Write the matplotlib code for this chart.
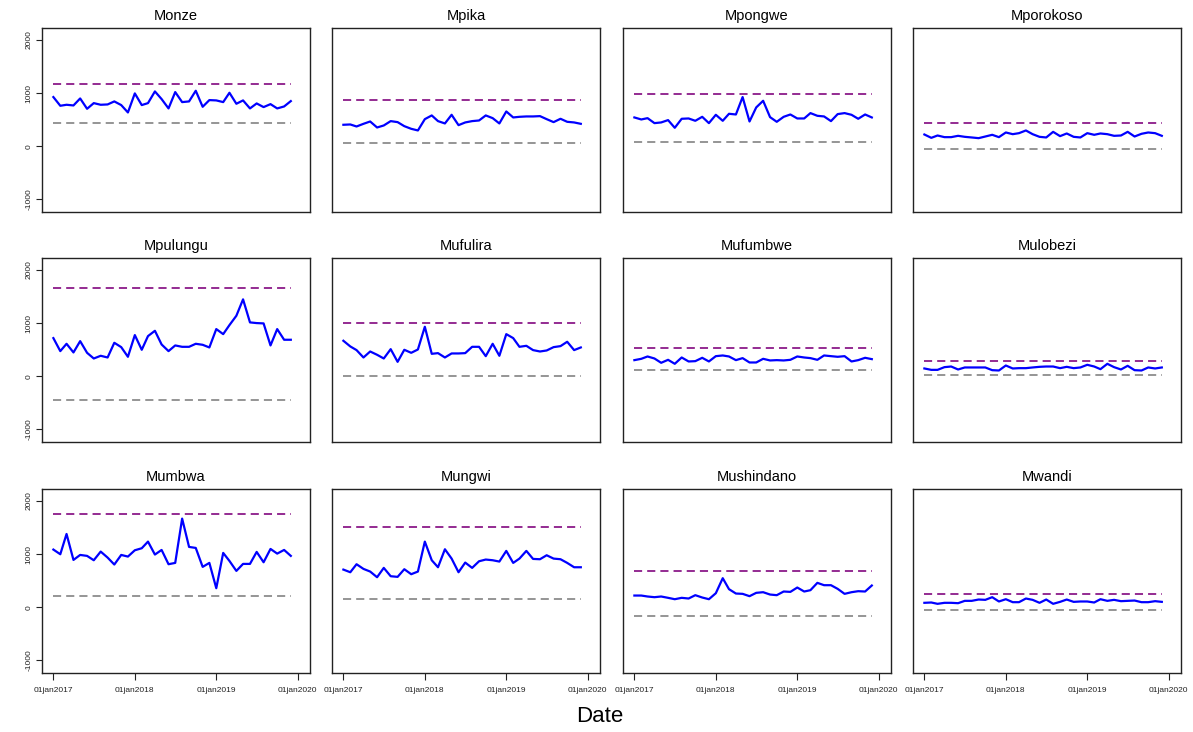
import numpy as np
import pandas as pd
import matplotlib
matplotlib.use("Agg")
import matplotlib.pyplot as plt
import matplotlib.dates as mdates

plt.rcParams['font.family'] = ['Liberation Sans', 'DejaVu Sans']

districts = ["Monze", "Mpika", "Mpongwe", "Mporokoso",
             "Mpulungu", "Mufulira", "Mufumbwe", "Mulobezi",
             "Mumbwa", "Mungwi", "Mushindano", "Mwandi"]

dates = pd.date_range("2017-01-01", periods=36, freq="MS")

monze = [925, 761, 780, 767, 899, 704, 811, 780, 786, 843, 774, 635, 994, 774, 811, 1031, 887, 711,
         1019, 830, 843, 1044, 742, 868, 862, 830, 1006, 799, 862, 711, 805, 736, 792, 711, 748, 849]
mpika = [403, 409, 371, 421, 465, 352, 390, 472, 453, 377, 327, 296, 509, 579, 472, 428, 591, 396,
         447, 472, 484, 579, 528, 428, 654, 541, 553, 560, 560, 566, 509, 453, 516, 459, 447, 421]
mpongwe = [541, 503, 528, 434, 447, 491, 346, 516, 522, 478, 553, 434, 591, 478, 610, 597, 925, 465,
           730, 855, 547, 459, 553, 597, 522, 522, 623, 572, 560, 472, 604, 623, 591, 516, 597, 541]
mporokoso = [220, 157, 201, 170, 170, 195, 176, 164, 151, 182, 214, 170, 258, 226, 245, 296, 226, 176,
             164, 270, 189, 239, 176, 164, 245, 214, 239, 226, 195, 201, 270, 182, 233, 258, 245, 195]
mpulungu = [717, 472, 610, 447, 660, 440, 333, 384, 352, 629, 547, 365, 774, 497, 755, 855, 597, 472,
            579, 553, 553, 610, 591, 541, 887, 792, 962, 1138, 1447, 1013, 1000, 994, 579, 887, 686, 686]
mufulira = [667, 560, 491, 352, 465, 403, 333, 509, 270, 497, 440, 503, 931, 421, 434, 352, 428, 428,
            434, 553, 553, 377, 610, 384, 792, 717, 553, 572, 491, 465, 484, 547, 566, 648, 491, 541]
mufumbwe = [302, 327, 371, 333, 252, 308, 233, 352, 277, 283, 346, 277, 377, 390, 371, 302, 340, 258,
            258, 327, 296, 302, 296, 308, 371, 352, 340, 308, 390, 377, 365, 377, 277, 302, 346, 321]
mulobezi = [145, 119, 119, 170, 182, 126, 164, 164, 164, 164, 113, 107, 201, 145, 151, 151, 164, 176,
            182, 182, 151, 176, 151, 164, 214, 182, 132, 233, 170, 126, 195, 113, 107, 164, 145, 164]
mumbwa = [1085, 997, 1379, 890, 984, 966, 884, 1047, 934, 803, 984, 953, 1072, 1110, 1235, 991, 1078, 809,
          834, 1668, 1135, 1116, 759, 834, 357, 1022, 871, 683, 815, 815, 1041, 846, 1097, 1009, 1078, 966]
mungwi = [708, 658, 809, 721, 671, 564, 740, 583, 571, 715, 621, 671, 1235, 884, 752, 1091, 915, 658,
          840, 740, 865, 897, 884, 859, 1060, 834, 915, 1060, 909, 903, 978, 915, 903, 834, 752, 752]
mushindano = [219, 219, 201, 188, 201, 176, 150, 176, 163, 226, 182, 150, 263, 546, 339, 257, 251, 207,
              270, 282, 238, 226, 295, 288, 370, 295, 320, 458, 414, 414, 345, 251, 282, 301, 295, 408]
mwandi = [82, 88, 63, 82, 82, 75, 119, 119, 144, 138, 188, 107, 150, 94, 94, 163, 138, 82,
          144, 63, 100, 144, 100, 107, 107, 88, 150, 119, 138, 113, 119, 125, 94, 94, 113, 100]

series = [monze, mpika, mpongwe, mporokoso, mpulungu, mufulira, mufumbwe, mulobezi,
          mumbwa, mungwi, mushindano, mwandi]

upper = [1176, 868, 987, 434, 1667, 1000, 528, 289, 1755, 1511, 683, 251]
lower = [428, 57, 82, -44, -447, -6, 119, 25, 213, 163, -163, -44]

y_ticks = [-1000, 0, 1000, 2000]
x_tick_labels = ["01jan2017", "01jan2018", "01jan2019", "01jan2020"]
x_tick_dates = pd.to_datetime(["2017-01-01", "2018-01-01", "2019-01-01", "2020-01-01"])

W, H = 1193, 732
fig = plt.figure(figsize=(W / 100, H / 100), dpi=100)

col_left = [42, 332, 623, 913]
row_top = [28, 258, 489]
aw, ah = 268, 184

xmin = mdates.date2num(pd.Timestamp("2017-01-01")) - 51
xmax = mdates.date2num(pd.Timestamp("2020-01-01")) + 55

for i, name in enumerate(districts):
    r, c = divmod(i, 4)
    ax = fig.add_axes([col_left[c] / W, 1 - (row_top[r] + ah) / H, aw / W, ah / H])
    xd = mdates.date2num(dates)
    ax.plot([xd[0], xd[-1]], [upper[i], upper[i]], color="#8B1A89", lw=1.3,
            linestyle=(0, (4.5, 2.8)))
    ax.plot([xd[0], xd[-1]], [lower[i], lower[i]], color="#8C8C8C", lw=1.3,
            linestyle=(0, (4.5, 2.8)))
    ax.plot(xd, series[i], color="#0000FF", lw=1.6)
    ax.set_xlim(xmin, xmax)
    ax.set_ylim(-1240, 2226)
    for s in ax.spines.values():
        s.set_color("#222222")
        s.set_linewidth(1.0)
    ax.set_title(name, fontsize=10.5, pad=6)
    if c == 0:
        ax.set_yticks(y_ticks)
        ax.set_yticklabels([str(v) for v in y_ticks], rotation=90, va="center", fontsize=6)
        ax.tick_params(axis="y", length=4, width=0.8, pad=3, colors="#222222")
    else:
        ax.set_yticks([])
    if r == 2:
        ax.set_xticks(mdates.date2num(x_tick_dates))
        ax.set_xticklabels(x_tick_labels, fontsize=6)
        ax.tick_params(axis="x", length=5, width=0.8, pad=5, colors="#222222")
    else:
        ax.set_xticks([])

fig.text(600 / W, 1 - 717 / H, "Date", ha="center", va="center", fontsize=16)

fig.savefig("out.png", dpi=100)
